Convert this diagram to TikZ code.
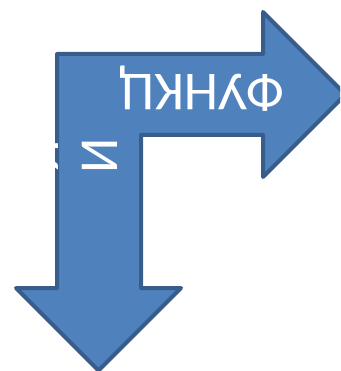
\documentclass[tikz,border=0pt]{standalone}
\usepackage{fontspec}
\setmainfont{Carlito}
\definecolor{arrowfill}{HTML}{4F81BD}
\definecolor{arrowline}{HTML}{385D8A}
\begin{document}
\begin{tikzpicture}[x=1pt,y=-1pt,
  arrowshape/.style={fill=arrowfill,draw=arrowline,line width=4pt,line join=round},
  lbl/.style={text=white,inner sep=0pt,font=\fontsize{55}{60}\selectfont}]
\useasboundingbox (0,0) rectangle (340,371);
\begin{scope}
\clip (0,0) rectangle (340,371);
\draw[arrowshape] (57,54) -- (263,54) -- (263,12) -- (345.5,94.5) -- (263,177) -- (263,135)
  -- (141,135) -- (141,288) -- (181,288) -- (98.5,370.5) -- (16,288) -- (57,288) -- cycle;
\end{scope}
\node[lbl,rotate=180,anchor=base] (t1) at (202,75) {ФУНКЦ};
\node[lbl,rotate=90,anchor=base] (t2) at (117,155.5) {И};
\node[lbl,rotate=90,anchor=base] (t3) at (58,155.5) {Я};
\end{tikzpicture}
\end{document}
